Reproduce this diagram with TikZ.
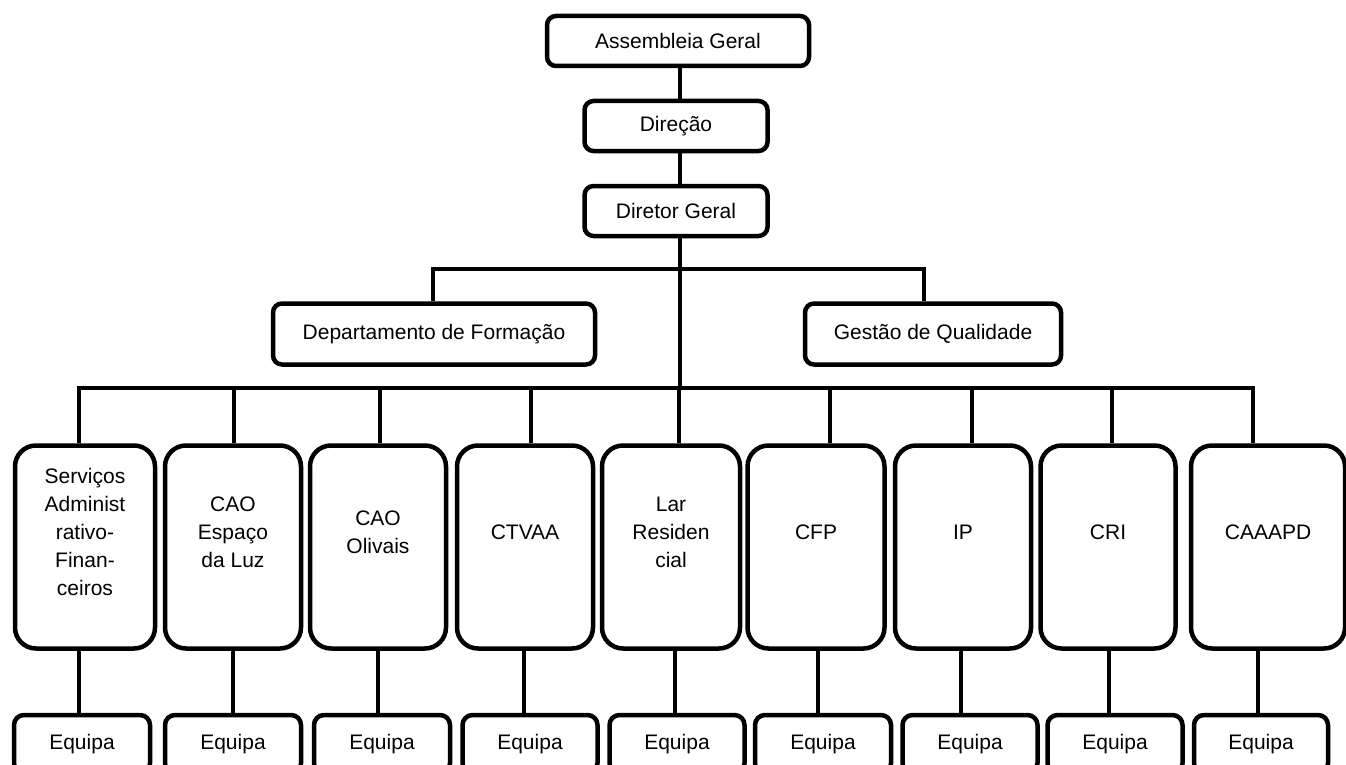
\documentclass[tikz,border=0pt]{standalone}
\usepackage{fontspec}
\setmainfont{Liberation Sans}
\begin{document}
\begin{tikzpicture}[
x=1pt,y=-1pt,
font=\fontsize{21}{28}\selectfont,
box/.style={draw,line width=4.5pt,rounded corners=9pt,inner sep=0pt},
unitbox/.style={draw,line width=4.5pt,rounded corners=21pt,minimum height=203pt,inner sep=0pt},
teambox/.style={draw,line width=4.5pt,rounded corners=10pt,minimum height=58pt,inner sep=0pt},
link/.style={line width=4pt},
]
\useasboundingbox (0,0) rectangle (1346,765);
% top of the chart
\node[box,minimum width=262pt,minimum height=50pt] (ag) at (678,41) {Assembleia Geral};
\node[box,minimum width=183pt,minimum height=50pt] (dir) at (676,126) {Direção};
\node[box,minimum width=183pt,minimum height=50pt] (dg) at (676,211) {Diretor Geral};
\node[box,minimum width=322pt,minimum height=61pt] (df) at (434,334) {Departamento de Formação};
\node[box,minimum width=256pt,minimum height=61pt] (gq) at (933,334) {Gestão de Qualidade};
\coordinate (spine) at (680,388);
\coordinate (tbL) at (433,269);
\coordinate (tbR) at (924,269);
\draw[link] (ag.south -| spine) -- (dir.north -| spine);
\draw[link] (dir.south -| spine) -- (dg.north -| spine);
\draw[link] (dg.south -| spine) -- (spine);
\draw[link] (tbL |- df.north) -- (tbL) -- (tbR) -- (tbR |- gq.north);
% units and teams
\foreach \i/\cx/\w/\tx/\dx/\ex/\ew/\txt in {
1/85/140/79/79/82/136/{Serviços\\Administ\\rativo-\\Finan-\\ceiros},
2/233/136/234/233/233/136/{CAO\\Espaço\\da Luz},
3/378/136/380/378/382/136/{CAO\\Olivais},
4/525/136/531/524/530/135/CTVAA,
5/671/138/679/675/677/135/{Lar\\Residen\\cial},
6/816/137/830/818/823/136/CFP,
7/963/136/972/961/970/135/IP,
8/1108/135/1112/1109/1115/135/CRI,
9/1268/154/1253/1258/1261/134/CAAAPD}
{
\node[unitbox,minimum width=\w pt] (u\i) at (\cx,547) {};
\node[align=center] (l\i) at ([yshift=15pt]u\i.center) {\txt};
\node[teambox,minimum width=\ew pt] (e\i) at (\ex,744) {Equipa};
\coordinate (t\i) at (\tx,388);
\coordinate (d\i) at (\dx,0);
\draw[link] (t\i) -- (t\i |- u\i.north);
\draw[link] (d\i |- u\i.south) -- (d\i |- e\i.north);
}
\draw[link] (t1 |- u1.north) -- (t1) -- (t9) -- (t9 |- u9.north);
\end{tikzpicture}
\end{document}
